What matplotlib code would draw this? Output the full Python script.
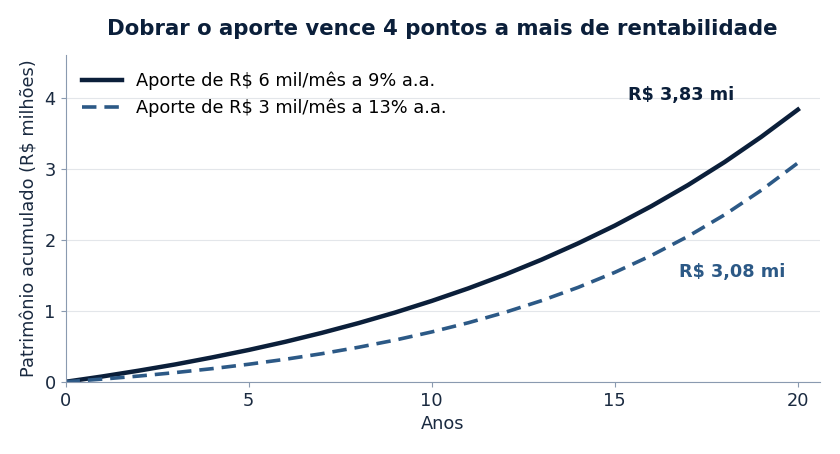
import numpy as np
import matplotlib
matplotlib.use('Agg')
import matplotlib.pyplot as plt

plt.rcParams['font.family'] = ['DejaVu Sans']

# patrimonio acumulado (R$ milhoes), ano a ano
anos = list(range(0, 21))
aporte_6mil_9 = [0.0, 0.075, 0.157, 0.245, 0.343, 0.448, 0.563, 0.689, 0.826, 0.975,
                 1.138, 1.315, 1.508, 1.719, 1.949, 2.198, 2.472, 2.769, 3.093, 3.447, 3.83]
aporte_3mil_13 = [0.0, 0.038, 0.081, 0.130, 0.185, 0.247, 0.317, 0.396, 0.486, 0.587,
                  0.702, 0.831, 0.977, 1.142, 1.329, 1.540, 1.778, 2.047, 2.351, 2.695, 3.08]
rotulos = ['Aporte de R$ 6 mil/mês a 9% a.a.', 'Aporte de R$ 3 mil/mês a 13% a.a.']

navy = '#0b1f3a'
azul = '#2c5986'
eixo = '#8a9ab0'

fig = plt.figure(figsize=(8.4, 4.54), dpi=100)
ax = fig.add_axes([0.078, 0.159, 0.898, 0.72])

ax.plot(anos, aporte_6mil_9, color=navy, lw=3.2, label=rotulos[0])
ax.plot(anos, aporte_3mil_13, color=azul, lw=2.6, ls=(0, (4, 2.2)), label=rotulos[1])

ax.text(16.8, 4.03, 'R$ 3,83 mi', color=navy, fontsize=12.7, fontweight='bold', ha='center', va='center')
ax.text(18.2, 1.54, 'R$ 3,08 mi', color=azul, fontsize=12.7, fontweight='bold', ha='center', va='center')

ax.set_xlim(0, 20.6)
ax.set_ylim(0, 4.6)
ax.set_xticks([0, 5, 10, 15, 20])
ax.set_yticks([0, 1, 2, 3, 4])
ax.grid(axis='y', color='#e3e6ea', lw=0.8)
ax.set_axisbelow(True)
for s in ['top', 'right']:
    ax.spines[s].set_visible(False)
for s in ['left', 'bottom']:
    ax.spines[s].set_color(eixo)
ax.tick_params(colors=eixo, labelcolor='#1a2a40', labelsize=12.8)

ax.set_xlabel('Anos', fontsize=12.8, color='#1a2a40')
ax.set_ylabel('Patrimônio acumulado (R$ milhões)', fontsize=12.8, color='#1a2a40')
fig.suptitle('Dobrar o aporte vence 4 pontos a mais de rentabilidade', x=0.526, y=0.958,
             fontsize=15.3, fontweight='bold', color=navy)

ax.legend(loc='upper left', frameon=False, fontsize=12.8, handlelength=2.2,
          borderaxespad=0.55, labelspacing=0.45)

fig.savefig('out.png', dpi=100)
